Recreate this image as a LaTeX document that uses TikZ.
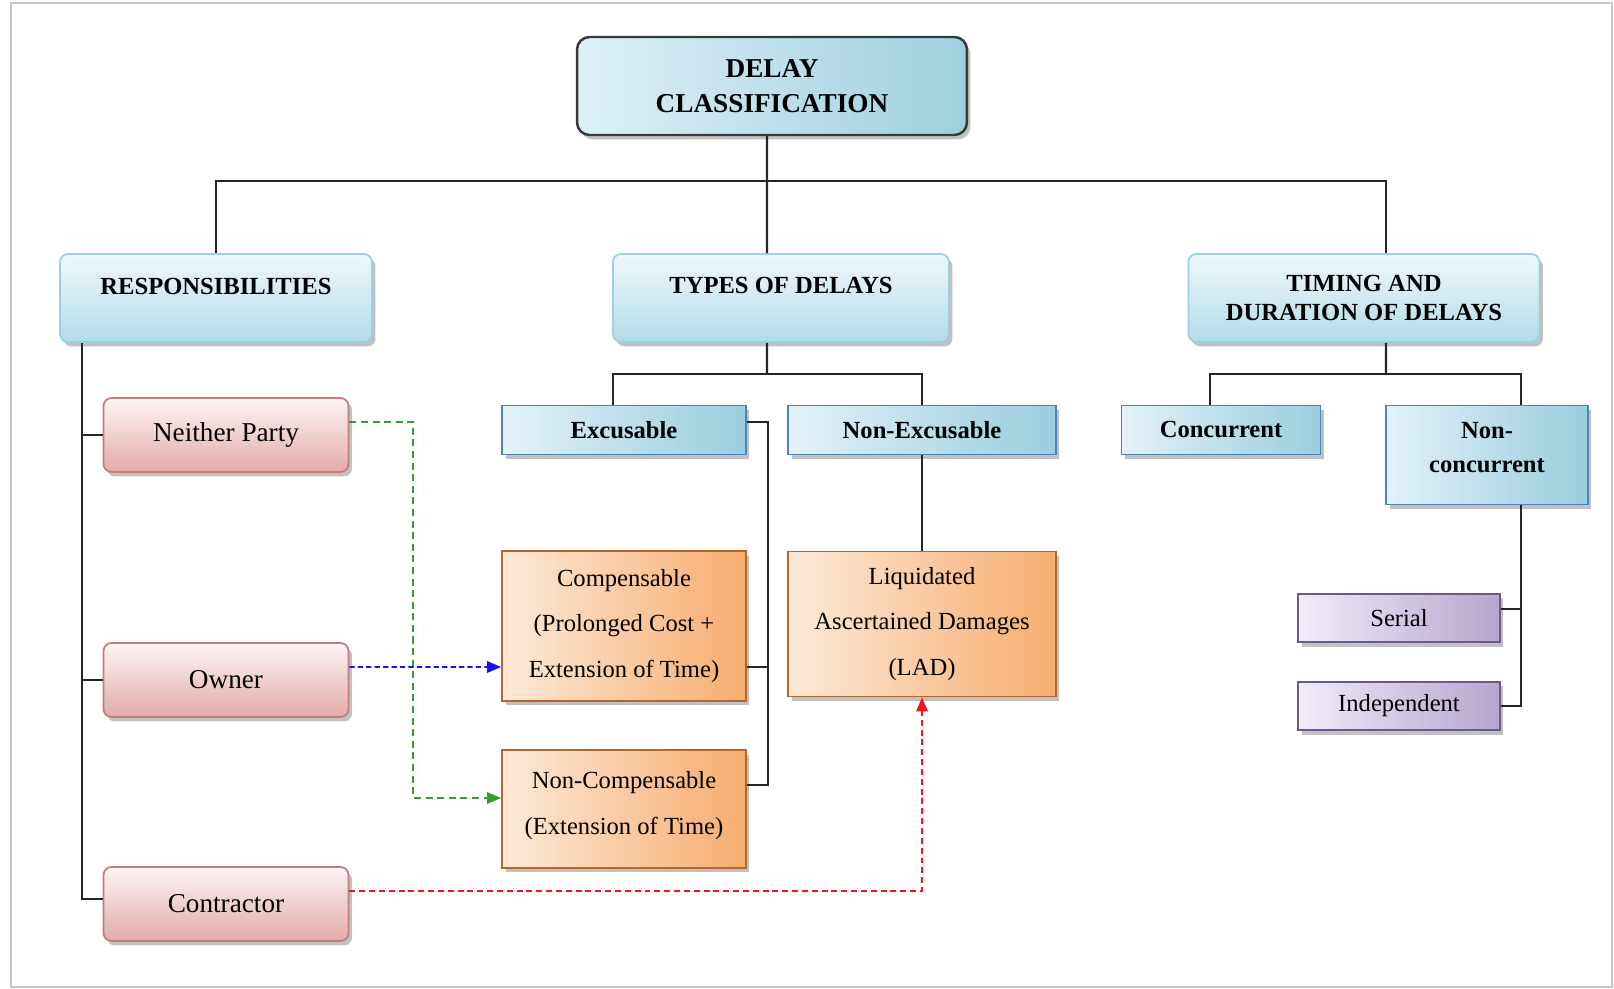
\documentclass[tikz,border=0pt]{standalone}
\usepackage{fontspec}
\setmainfont{Liberation Serif}
\usetikzlibrary{arrows.meta,shadows}
\definecolor{linegray}{HTML}{262626}
\definecolor{headline}{HTML}{3A3A3A}
\definecolor{headlight}{HTML}{DDF0F6}
\definecolor{headdark}{HTML}{9FD0DE}
\definecolor{grpline}{HTML}{9FCFDC}
\definecolor{grplight}{HTML}{EEF8FB}
\definecolor{grpdark}{HTML}{B3DCE7}
\definecolor{typeline}{HTML}{4F81BD}
\definecolor{typelight}{HTML}{E2F2F8}
\definecolor{typedark}{HTML}{9ACDDD}
\definecolor{partyline}{HTML}{C77B7B}
\definecolor{partylight}{HTML}{FDF5F5}
\definecolor{partydark}{HTML}{E3AAAA}
\definecolor{claimline}{HTML}{B9652A}
\definecolor{claimlight}{HTML}{FDE9D8}
\definecolor{claimdark}{HTML}{F6AD6E}
\definecolor{kindline}{HTML}{6B5A8A}
\definecolor{kindlight}{HTML}{F0ECF7}
\definecolor{kinddark}{HTML}{B6A5CE}
\definecolor{arrgreen}{HTML}{2EA02E}
\definecolor{arrblue}{HTML}{1414F5}
\definecolor{arrred}{HTML}{F5141E}

\begin{document}
\begin{tikzpicture}[x=0.02cm,y=-0.02cm,>={Triangle[length=8pt,width=6.5pt]},
    tree/.style={draw=linegray,line width=1.2pt},
    box shadow/.style={drop shadow={shadow xshift=0.07cm,shadow yshift=-0.09cm,opacity=0.35,fill=black!70}},
    head node/.style={draw=headline,line width=1.4pt,rounded corners=0.25cm,left color=headlight,right color=headdark,
      box shadow,align=center,minimum width=7.8cm,minimum height=1.96cm,font=\fontsize{15.5}{20}\selectfont\bfseries},
    group node/.style={draw=grpline,line width=1pt,rounded corners=0.16cm,top color=grplight,bottom color=grpdark,
      box shadow,align=center,minimum height=1.76cm,font=\fontsize{14}{16.5}\selectfont\bfseries},
    type node/.style={draw=typeline,line width=1pt,left color=typelight,right color=typedark,
      box shadow,align=center,minimum height=0.98cm,font=\fontsize{14}{19}\selectfont\bfseries},
    party node/.style={draw=partyline,line width=1pt,rounded corners=0.16cm,top color=partylight,bottom color=partydark,
      box shadow,minimum width=4.9cm,minimum height=1.48cm,font=\fontsize{15.5}{18}\selectfont},
    claim node/.style={draw=claimline,line width=1pt,left color=claimlight,right color=claimdark,
      box shadow,align=center,minimum width=4.88cm,font=\fontsize{14}{26}\selectfont},
    kind node/.style={draw=kindline,line width=1pt,left color=kindlight,right color=kinddark,
      box shadow,minimum width=4.04cm,minimum height=0.97cm,font=\fontsize{14}{16}\selectfont},
    link/.style={line width=1.1pt,->}]
  \useasboundingbox (0,0) rectangle (1614,989);
  \draw[black!22,line width=1.6pt] (11,3) rectangle (1612,987);

  \node[head node] (top) at (772,86) {DELAY\\CLASSIFICATION};
  \node[group node,minimum width=6.24cm,text depth=0.45cm] (resp) at (216,298) {RESPONSIBILITIES};
  \node[group node,minimum width=6.72cm,text depth=0.5cm] (types) at (781,298) {TYPES OF DELAYS};
  \node[group node,minimum width=7.02cm] (timing) at (1364,298) {TIMING AND\\DURATION OF DELAYS};

  \node[party node] (neither) at (226,435) {Neither Party};
  \node[party node] (owner) at (226,680) {Owner};
  \node[party node] (contractor) at (226,904) {Contractor};

  \node[type node,minimum width=4.88cm] (exc) at (624,430) {Excusable};
  \node[type node,minimum width=5.36cm] (nonexc) at (922,430) {Non-Excusable};
  \node[type node,minimum width=3.98cm] (conc) at (1221,430) {Concurrent};
  \node[type node,minimum width=4.04cm,minimum height=1.98cm,text depth=0.3cm] (noncon) at (1487,455) {Non-\\concurrent};

  \node[claim node,minimum height=3cm] (comp) at (624,626) {Compensable\\(Prolonged Cost +\\Extension of Time)};
  \node[claim node,minimum width=5.36cm,minimum height=2.9cm] (lad) at (922,624) {Liquidated\\Ascertained Damages\\(LAD)};
  \node[claim node,minimum height=2.36cm,text depth=0.25cm] (noncomp) at (624,809) {Non-Compensable\\(Extension of Time)};

  \node[kind node] (serial) at (1399,618) {Serial};
  \node[kind node] (indep) at (1399,706) {Independent};

  \coordinate (hub) at (767,181);
  \coordinate (typesbus) at (767,374);
  \coordinate (timingbus) at (1386,374);

  \draw[tree] ([xshift=-0.1cm]top.south) -- (hub);
  \draw[tree] (resp.north) |- (hub) -| ([xshift=0.44cm]timing.north);
  \draw[tree] (hub) -- ([xshift=-0.28cm]types.north);
  \draw[tree] ([xshift=-0.28cm]types.south) -- (typesbus);
  \draw[tree] ([xshift=-0.22cm]exc.north) |- (typesbus) -| (nonexc.north);
  \draw[tree] ([xshift=0.44cm]timing.south) -- (timingbus);
  \draw[tree] ([xshift=-0.22cm]conc.north) |- (timingbus) -| ([xshift=0.68cm]noncon.north);
  \draw[tree] ([xshift=-2.68cm]resp.south) |- ([yshift=0.1cm]contractor.west);
  \draw[tree] (neither.west) -- ++(-22,0);
  \draw[tree] (owner.west) -- ++(-22,0);
  \draw[tree] ([yshift=0.16cm]exc.east) -| ([xshift=0.42cm,yshift=0.48cm]noncomp.east) -- ([yshift=0.48cm]noncomp.east);
  \draw[tree] ([yshift=-0.82cm]comp.east) -- ++(21,0);
  \draw[tree] (nonexc.south) -- (lad.north);
  \draw[tree] ([xshift=0.68cm]noncon.south) |- (indep.east);
  \draw[tree] ([yshift=0.18cm]serial.east) -- ++(21,0);

  \draw[link,arrgreen,dash pattern=on 4pt off 2.6pt] ([yshift=0.26cm]neither.east)
    -| ([xshift=-1.76cm,yshift=0.22cm]noncomp.west) -- ([yshift=0.22cm]noncomp.west);
  \draw[link,arrblue,dash pattern=on 3pt off 1.8pt] ([yshift=0.26cm]owner.east) -- ([yshift=-0.82cm]comp.west);
  \draw[link,arrred,dash pattern=on 3.4pt off 2.2pt] ([yshift=0.26cm]contractor.east) -| (lad.south);
\end{tikzpicture}
\end{document}
